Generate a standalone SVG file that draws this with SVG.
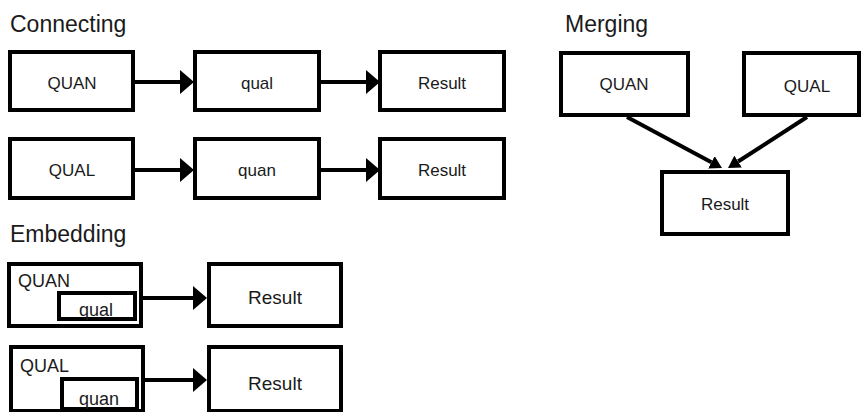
<svg xmlns="http://www.w3.org/2000/svg" width="868" height="412" viewBox="0 0 868 412">
<defs>
<style>
.box{fill:#fff;stroke:#000;stroke-width:4}
.ln{stroke:#000;stroke-width:4;fill:none}
.t{font-family:"Liberation Sans",Arial,sans-serif;fill:#1a1a1a}
.title{font-size:23px}
.lbl{font-size:17px;text-anchor:middle}
.lbl2{font-size:19px;text-anchor:middle}
.lbl3{font-size:18px}
</style>
<marker id="ah" viewBox="0 0 14 24" refX="0" refY="12" markerWidth="14" markerHeight="24" markerUnits="userSpaceOnUse" orient="auto"><path d="M0,0 L14,12 L0,24 Z" fill="#000"/></marker>
<marker id="am" viewBox="0 0 12 14" refX="0" refY="7" markerWidth="12" markerHeight="14" markerUnits="userSpaceOnUse" orient="auto"><path d="M0,0 L12,7 L0,14 Z" fill="#000"/></marker>
</defs>
<rect width="868" height="412" fill="#fff"/>

<text class="t title" x="10" y="32">Connecting</text>
<text class="t title" x="565" y="32">Merging</text>
<text class="t title" x="10" y="242">Embedding</text>

<g id="connectors">
<line class="ln" x1="135" y1="82" x2="180" y2="82" marker-end="url(#ah)"/>
<line class="ln" x1="321" y1="82" x2="366" y2="82" marker-end="url(#ah)"/>
<line class="ln" x1="135" y1="170" x2="180" y2="170" marker-end="url(#ah)"/>
<line class="ln" x1="321" y1="170" x2="366" y2="170" marker-end="url(#ah)"/>
<line class="ln" x1="627" y1="117" x2="711.4" y2="162.3" marker-end="url(#am)"/>
<line class="ln" x1="807" y1="117" x2="738.1" y2="161.5" marker-end="url(#am)"/>
<line class="ln" x1="143" y1="298" x2="193" y2="298" marker-end="url(#ah)"/>
<line class="ln" x1="145" y1="380" x2="193" y2="380" marker-end="url(#ah)"/>
</g>

<g id="c1-quan"><rect class="box" x="10" y="52" width="123" height="58"/><text class="t lbl" x="72" y="89">QUAN</text></g>
<g id="c1-qual"><rect class="box" x="195" y="52" width="124" height="58"/><text class="t lbl" x="257" y="89">qual</text></g>
<g id="c1-result"><rect class="box" x="380" y="52" width="124" height="58"/><text class="t lbl" x="442" y="89">Result</text></g>

<g id="c2-qual"><rect class="box" x="10" y="139" width="123" height="59"/><text class="t lbl" x="72" y="176">QUAL</text></g>
<g id="c2-quan"><rect class="box" x="195" y="139" width="124" height="59"/><text class="t lbl" x="257" y="176">quan</text></g>
<g id="c2-result"><rect class="box" x="380" y="139" width="124" height="59"/><text class="t lbl" x="442" y="176">Result</text></g>

<g id="m-quan"><rect class="box" x="561" y="53" width="127" height="62"/><text class="t lbl" x="624" y="90">QUAN</text></g>
<g id="m-qual"><rect class="box" x="744" y="53" width="115" height="62"/><text class="t lbl" x="807" y="92">QUAL</text></g>
<g id="m-result"><rect class="box" x="662" y="172" width="126" height="62"/><text class="t lbl" x="725" y="210">Result</text></g>

<g id="e1-quan"><rect class="box" x="9" y="264" width="132" height="62"/><text class="t lbl3" x="18" y="287">QUAN</text>
<g id="e1-qual"><rect class="box" x="59" y="293" width="76" height="26"/><text class="t lbl3" x="79" y="316">qual</text></g></g>
<g id="e1-result"><rect class="box" x="209" y="264" width="132" height="62"/><text class="t lbl2" x="275" y="304">Result</text></g>

<g id="e2-qual"><rect class="box" x="11" y="347" width="132" height="64"/><text class="t lbl3" x="20" y="372">QUAL</text>
<g id="e2-quan"><rect class="box" x="62" y="379" width="75" height="30"/><text class="t lbl3" x="79" y="405">quan</text></g></g>
<g id="e2-result"><rect class="box" x="209" y="347" width="132" height="64"/><text class="t lbl2" x="275" y="390">Result</text></g>
</svg>
